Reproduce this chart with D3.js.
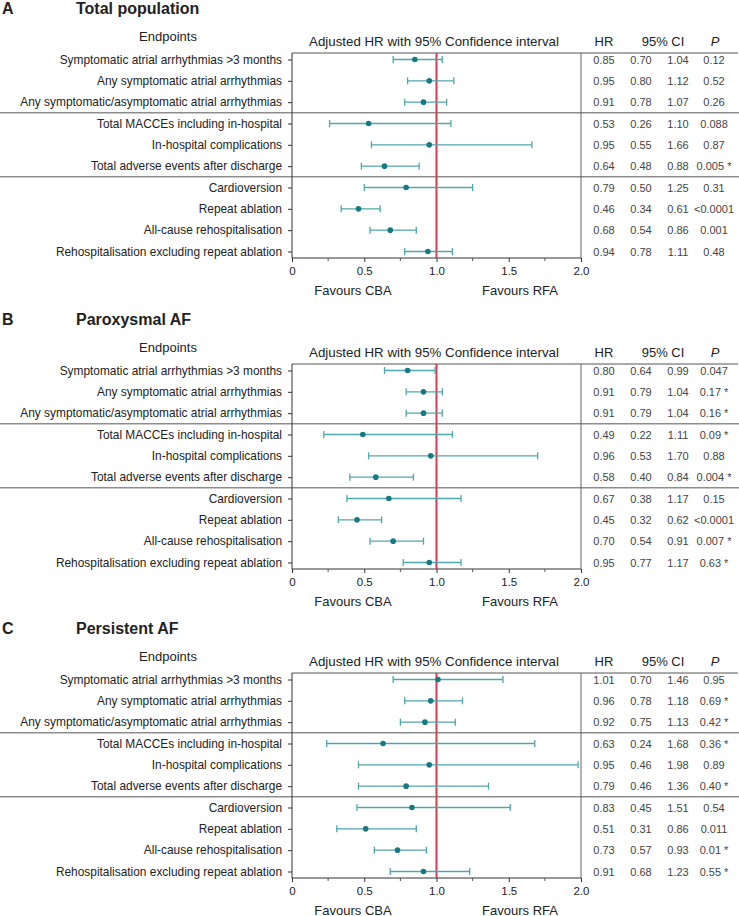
<!DOCTYPE html>
<html><head><meta charset="utf-8">
<script src="https://cdn.jsdelivr.net/npm/d3@7"></script>
<style>
body{margin:0;background:#fff;}
svg{display:block;font-family:"Liberation Sans",Arial,Helvetica,sans-serif;}
</style></head>
<body><svg id="c" width="739" height="916"></svg>
<script>
const endpoints = [
  "Symptomatic atrial arrhythmias >3 months",
  "Any symptomatic atrial arrhythmias",
  "Any symptomatic/asymptomatic atrial arrhythmias",
  "Total MACCEs including in-hospital",
  "In-hospital complications",
  "Total adverse events after discharge",
  "Cardioversion",
  "Repeat ablation",
  "All-cause rehospitalisation",
  "Rehospitalisation excluding repeat ablation"
];
const panelLetters = ["A", "B", "C"];
const panelTitles = ["Total population", "Paroxysmal AF", "Persistent AF"];

const hrA = [0.85, 0.95, 0.91, 0.53, 0.95, 0.64, 0.79, 0.46, 0.68, 0.94];
const loA = [0.70, 0.80, 0.78, 0.26, 0.55, 0.48, 0.50, 0.34, 0.54, 0.78];
const hiA = [1.04, 1.12, 1.07, 1.10, 1.66, 0.88, 1.25, 0.61, 0.86, 1.11];
const pA  = ["0.12", "0.52", "0.26", "0.088", "0.87", "0.005 *", "0.31", "<0.0001", "0.001", "0.48"];

const hrB = [0.80, 0.91, 0.91, 0.49, 0.96, 0.58, 0.67, 0.45, 0.70, 0.95];
const loB = [0.64, 0.79, 0.79, 0.22, 0.53, 0.40, 0.38, 0.32, 0.54, 0.77];
const hiB = [0.99, 1.04, 1.04, 1.11, 1.70, 0.84, 1.17, 0.62, 0.91, 1.17];
const pB  = ["0.047", "0.17 *", "0.16 *", "0.09 *", "0.88", "0.004 *", "0.15", "<0.0001", "0.007 *", "0.63 *"];

const hrC = [1.01, 0.96, 0.92, 0.63, 0.95, 0.79, 0.83, 0.51, 0.73, 0.91];
const loC = [0.70, 0.78, 0.75, 0.24, 0.46, 0.46, 0.45, 0.31, 0.57, 0.68];
const hiC = [1.46, 1.18, 1.13, 1.68, 1.98, 1.36, 1.51, 0.86, 0.93, 1.23];
const pC  = ["0.95", "0.69 *", "0.42 *", "0.36 *", "0.89", "0.40 *", "0.54", "0.011", "0.01 *", "0.55 *"];

const xTicks = [0, 0.5, 1.0, 1.5, 2.0];
const xTickLabels = ["0", "0.5", "1.0", "1.5", "2.0"];
const xMinorTicks = [0.25, 0.75, 1.25, 1.75];
const tableHeaders = ["HR", "95% CI", "P"];
const headerPlot = "Adjusted HR with 95% Confidence interval";
const favourLabels = ["Favours CBA", "Favours RFA"];

const panels = [
  {hr: hrA, lo: loA, hi: hiA, p: pA},
  {hr: hrB, lo: loB, hi: hiB, p: pB},
  {hr: hrC, lo: loC, hi: hiC, p: pC}
];

const svg = d3.select("#c");
const x = d3.scaleLinear().domain([0, 2]).range([292, 581]);
const lineCol = "#4fa7ab", dotCol = "#157b80", redCol = "#cc3d57", txtCol = "#222", tabCol = "#444";
const offsets = [0, 311, 620];

panels.forEach((pd, k) => {
  const g = svg.append("g").attr("transform", `translate(0,${offsets[k]})`);
  const top = 53, bottom = 258;
  const y = d3.scalePoint().domain(endpoints).range([59.5, 251.5]);

  g.append("text").attr("x", 2).attr("y", 14).attr("font-size", 16).attr("font-weight", "bold").attr("fill", txtCol).text(panelLetters[k]);
  g.append("text").attr("x", 76).attr("y", 14).attr("font-size", 16).attr("font-weight", "bold").attr("fill", txtCol).text(panelTitles[k]);
  g.append("text").attr("x", 168).attr("y", 41).attr("text-anchor", "middle").attr("font-size", 13).attr("fill", txtCol).text("Endpoints");
  g.append("text").attr("x", 434).attr("y", 46).attr("text-anchor", "middle").attr("font-size", 13.3).attr("fill", txtCol).text(headerPlot);
  g.append("text").attr("x", 604).attr("y", 46).attr("text-anchor", "middle").attr("font-size", 13).attr("fill", txtCol).text(tableHeaders[0]);
  g.append("text").attr("x", 663).attr("y", 46).attr("text-anchor", "middle").attr("font-size", 13).attr("fill", txtCol).text(tableHeaders[1]);
  g.append("text").attr("x", 715).attr("y", 46).attr("text-anchor", "middle").attr("font-size", 13).attr("font-style", "italic").attr("fill", txtCol).text(tableHeaders[2]);

  // frame lines
  g.append("line").attr("x1", 292).attr("x2", 738).attr("y1", top).attr("y2", top).attr("stroke", "#555").attr("stroke-width", 1);
  g.append("line").attr("x1", x(2)).attr("x2", x(2)).attr("y1", top).attr("y2", bottom).attr("stroke", "#666").attr("stroke-width", 1);
  [2, 5].forEach(i => {
    const sy = (y(endpoints[i]) + y(endpoints[i + 1])) / 2;
    g.append("line").attr("x1", 0).attr("x2", 739).attr("y1", sy).attr("y2", sy).attr("stroke", "#555").attr("stroke-width", 1);
  });

  // y axis
  const ya = d3.axisLeft(y).tickSize(4).tickPadding(6);
  const yg = g.append("g").attr("transform", "translate(292,0)").call(ya);
  yg.select(".domain").attr("d", `M0,${top}V${bottom}`).attr("stroke", "#333");
  yg.selectAll(".tick line").attr("stroke", "#333");
  yg.selectAll(".tick text").attr("font-size", 11.9).attr("fill", txtCol).attr("font-family", "Liberation Sans, Arial, sans-serif");

  // x axis
  const xa = d3.axisBottom(x).tickValues(xTicks).tickSize(4).tickPadding(5).tickFormat((d, i) => xTickLabels[i]);
  const xg = g.append("g").attr("transform", `translate(0,${bottom})`).call(xa);
  xg.select(".domain").attr("d", `M${x(0)},0H${x(2)}`).attr("stroke", "#333");
  xg.selectAll(".tick line").attr("stroke", "#333");
  xg.selectAll(".tick text").attr("font-size", 11.5).attr("fill", txtCol).attr("font-family", "Liberation Sans, Arial, sans-serif");
  xg.selectAll(".minor").data(xMinorTicks).enter().append("line").attr("x1", d => x(d)).attr("x2", d => x(d)).attr("y1", 0).attr("y2", 3).attr("stroke", "#555");

  g.append("text").attr("x", 353).attr("y", 294.5).attr("text-anchor", "middle").attr("font-size", 13).attr("fill", txtCol).text(favourLabels[0]);
  g.append("text").attr("x", 520).attr("y", 294.5).attr("text-anchor", "middle").attr("font-size", 13).attr("fill", txtCol).text(favourLabels[1]);

  // error bars
  const rows = endpoints.map((e, i) => ({e, hr: pd.hr[i], lo: pd.lo[i], hi: pd.hi[i], p: pd.p[i]}));
  const eb = g.append("g");
  eb.selectAll(".ci").data(rows).enter().append("line")
    .attr("x1", d => x(d.lo)).attr("x2", d => x(d.hi)).attr("y1", d => y(d.e)).attr("y2", d => y(d.e))
    .attr("stroke", lineCol).attr("stroke-width", 1.3);
  ["lo", "hi"].forEach(key => {
    eb.selectAll(".cap" + key).data(rows).enter().append("line")
      .attr("x1", d => x(d[key])).attr("x2", d => x(d[key])).attr("y1", d => y(d.e) - 3.5).attr("y2", d => y(d.e) + 3.5)
      .attr("stroke", lineCol).attr("stroke-width", 1.3);
  });
  // reference line
  g.append("line").attr("x1", x(1)).attr("x2", x(1)).attr("y1", top).attr("y2", bottom).attr("stroke", redCol).attr("stroke-width", 2);
  eb.raise();
  eb.selectAll(".pt").data(rows).enter().append("circle")
    .attr("cx", d => x(d.hr)).attr("cy", d => y(d.e)).attr("r", 2.8).attr("fill", dotCol);

  // table
  const tb = g.append("g").attr("font-size", 11).attr("fill", tabCol).attr("text-anchor", "middle");
  tb.selectAll(".thr").data(rows).enter().append("text").attr("x", 604).attr("y", d => y(d.e) + 4).text(d => d.hr.toFixed(2));
  tb.selectAll(".tlo").data(rows).enter().append("text").attr("x", 641).attr("y", d => y(d.e) + 4).text(d => d.lo.toFixed(2));
  tb.selectAll(".thi").data(rows).enter().append("text").attr("x", 678).attr("y", d => y(d.e) + 4).text(d => d.hi.toFixed(2));
  tb.selectAll(".tp").data(rows).enter().append("text").attr("x", 714).attr("y", d => y(d.e) + 4).text(d => d.p);
});
</script></body></html>
